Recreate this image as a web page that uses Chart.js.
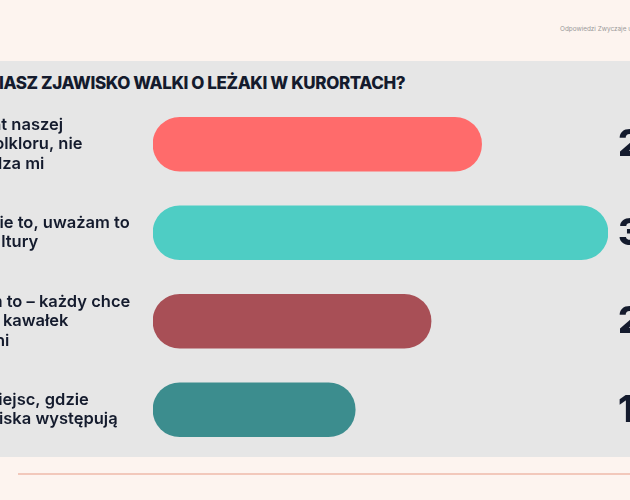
<!DOCTYPE html>
<html>
<head>
<meta charset="utf-8">
<script src="https://cdn.jsdelivr.net/npm/chart.js@4.4.1/dist/chart.umd.min.js"></script>
<style>
  html, body { margin: 0; padding: 0; }
  body { width: 630px; height: 500px; overflow: hidden; background: #fdf4ef; position: relative; font-family: Inter, "Noto Sans", sans-serif; }
  .panel { position: absolute; left: 0; top: 61px; width: 630px; height: 396px; background: #e6e6e6; }
  .source { position: absolute; left: 560px; top: 25px; font-size: 6.4px; color: #9a9a9a; white-space: nowrap; }
  .title { position: absolute; left: -86px; top: 73px; font-size: 17px; font-weight: 800; color: #141b2d; white-space: nowrap; letter-spacing: -0.4px; }
  .footer { position: absolute; left: 18px; top: 473px; width: 620px; height: 2px; background: #f2c8bb; }
  #wrap { position: absolute; left: 0; top: 0; width: 630px; height: 500px; }
</style>
</head>
<body>
<div class="panel"></div>
<div class="source">Odpowiedzi Zwyczaje urlopowe</div>
<div class="title">JAK OCENIASZ ZJAWISKO WALKI O LEŻAKI W KURORTACH?</div>
<div class="footer"></div>
<div id="wrap"><canvas id="chart"></canvas></div>
<script>
// Odpowiedzi (etykiety w liniach) i wartości w %
const categories = [
  ['To element naszej', 'kultury i folkloru, nie', 'przeszkadza mi'],
  ['Irytuje mnie to, uważam to', 'za brak kultury'],
  ['Rozumiem to – każdy chce', 'mieć swój kawałek', 'przestrzeni'],
  ['Unikam miejsc, gdzie', 'takie zjawiska występują']
];
const values = [26, 36, 22, 16];
const barColors = ['#ff6b6b', '#4ecdc4', '#a84f56', '#3c8d8e'];

// etykiety po lewej i wartości po prawej
const sideText = {
  id: 'sideText',
  afterDatasetsDraw(chart) {
    const { ctx, scales: { y }, chartArea } = chart;
    ctx.save();
    ctx.fillStyle = '#141b2d';
    ctx.textBaseline = 'middle';
    categories.forEach((lines, i) => {
      const cy = y.getPixelForValue(i);
      const lh = 19.5;
      ctx.font = '600 16.5px Inter';
      ctx.textAlign = 'left';
      lines.forEach((t, j) => {
        ctx.fillText(t, -81, cy + (j - (lines.length - 1) / 2) * lh);
      });
      ctx.font = '800 37px Inter';
      ctx.fillText(values[i] + '%', chartArea.right + 10, cy + 1);
    });
    ctx.restore();
  }
};

new Chart(document.getElementById('chart').getContext('2d'), {
  type: 'bar',
  data: {
    labels: categories,
    datasets: [{
      data: values,
      backgroundColor: barColors,
      borderRadius: 28,
      borderSkipped: false,
      barThickness: 54
    }]
  },
  options: {
    indexAxis: 'y',
    responsive: true,
    maintainAspectRatio: false,
    animation: false,
    layout: { padding: { left: 153, right: 22, top: 100, bottom: 46 } },
    plugins: {
      legend: { display: false },
      tooltip: { enabled: false }
    },
    scales: {
      x: { display: false, min: 0, max: 36 },
      y: { display: false }
    }
  },
  plugins: [sideText]
});
</script>
</body>
</html>
